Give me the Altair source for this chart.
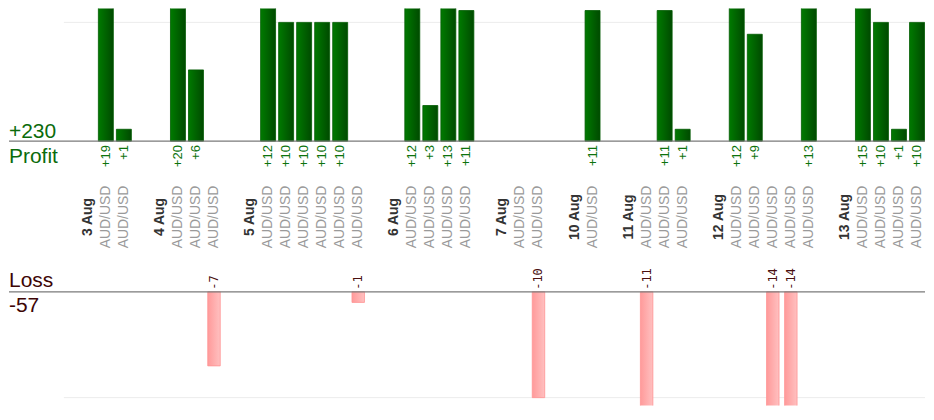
import altair as alt
import pandas as pd

# ---- data ----
days = ["3 Aug", "4 Aug", "5 Aug", "6 Aug", "7 Aug", "10 Aug", "11 Aug", "12 Aug", "13 Aug"]
results = [
    [19, 1],
    [20, 6, -7],
    [12, 10, 10, 10, 10, -1],
    [12, 3, 13, 11],
    [0, -10],
    [11],
    [-11, 11, 1],
    [12, 9, -14, -14, 13],
    [15, 10, 1, 10],
]
pair = "AUD/USD"
profit_title = "Profit"
loss_title = "Loss"

# ---- build tables (slot order: day label, its trades, one empty slot) ----
day_rows, trade_rows = [], []
slot = 0
for d, res in zip(days, results):
    day_rows.append({"slot": slot, "day": d})
    slot += 1
    for r in res:
        trade_rows.append({"slot": slot, "pair": pair, "result": r})
        slot += 1
    slot += 1

day_df = pd.DataFrame(day_rows)
trade_df = pd.DataFrame(trade_rows)
profit_df = trade_df[trade_df.result > 0].copy()
profit_df["label"] = profit_df.result.map(lambda v: f"+{v}")
loss_df = trade_df[trade_df.result < 0].copy()
loss_df["label"] = loss_df.result.map(lambda v: f"{v}")

total_profit = f"+{profit_df.result.sum()}"
total_loss = f"{loss_df.result.sum()}"

W, H = 863, 398
xs = alt.X("slot:Q", scale=alt.Scale(domain=[-1.3285, 46.443], nice=False, zero=False, padding=0), axis=None)

p_scale = alt.Scale(domain=[0, 11.176], range=[133, 0], nice=False, zero=False, padding=0)
l_scale = alt.Scale(domain=[-10.75, 0], range=[398, 284], nice=False, zero=False, padding=0)

green_grad = {
    "gradient": "linear", "x1": 0, "x2": 1, "y1": 0, "y2": 0,
    "stops": [{"offset": 0, "color": "#007a00"}, {"offset": 1, "color": "#004a00"}],
}
pink_grad = {
    "gradient": "linear", "x1": 0, "x2": 1, "y1": 0, "y2": 0,
    "stops": [{"offset": 0, "color": "#ff9a9a"}, {"offset": 1, "color": "#ffc0c0"}],
}

FONT = "Liberation Sans"

profit_bars = alt.Chart(profit_df).mark_bar(
    color=green_grad, stroke="#005a00", strokeWidth=0.8, size=15, clip=True, orient="vertical"
).encode(
    x=xs,
    y=alt.Y("result:Q", scale=p_scale, axis=None),
    y2=alt.datum(0),
)

loss_bars = alt.Chart(loss_df).mark_bar(
    color=pink_grad, stroke="#ff9393", strokeWidth=0.8, size=12.5, clip=True, orient="vertical"
).encode(
    x=xs,
    y=alt.Y("result:Q", scale=l_scale, axis=None),
    y2=alt.datum(0),
)

p_grid = alt.Chart(pd.DataFrame({"v": [10]})).mark_rule(color="#ececec", strokeWidth=1).encode(
    y=alt.Y("v:Q", scale=p_scale, axis=None), x=alt.value(0), x2=alt.value(W)
)
p_base = alt.Chart(pd.DataFrame({"v": [0]})).mark_rule(color="#7a7a7a", strokeWidth=1.2).encode(
    y=alt.Y("v:Q", scale=p_scale, axis=None), x=alt.value(-55), x2=alt.value(W)
)
l_grid = alt.Chart(pd.DataFrame({"v": [-10]})).mark_rule(color="#ececec", strokeWidth=1).encode(
    y=alt.Y("v:Q", scale=l_scale, axis=None), x=alt.value(0), x2=alt.value(W)
)
l_base = alt.Chart(pd.DataFrame({"v": [0]})).mark_rule(color="#7a7a7a", strokeWidth=1.2).encode(
    y=alt.Y("v:Q", scale=l_scale, axis=None), x=alt.value(-55), x2=alt.value(W)
)

profit_labels = alt.Chart(profit_df).mark_text(
    angle=270, align="right", baseline="middle", font=FONT, fontSize=13, color="#0d730d"
).encode(x=xs, y=alt.value(137), text="label:N")

loss_labels = alt.Chart(loss_df).mark_text(
    angle=270, align="left", baseline="middle", font="DejaVu Sans Mono", fontSize=12, color="#4a1010"
).encode(x=xs, y=alt.value(282), text="label:N")

pair_labels = alt.Chart(trade_df).mark_text(
    angle=270, align="center", baseline="middle", font=FONT, fontSize=14, color="#9a9a9a"
).encode(x=xs, y=alt.value(209), text="pair:N")

day_labels = alt.Chart(day_df).mark_text(
    angle=270, align="center", baseline="middle", font=FONT, fontSize=14, fontWeight="bold", color="#333333"
).encode(x=xs, y=alt.value(209), text="day:N")


def title_text(txt, y, color):
    return alt.Chart(pd.DataFrame({"t": [txt]})).mark_text(
        align="left", baseline="alphabetic", font=FONT, fontSize=21, color=color
    ).encode(x=alt.value(-55), y=alt.value(y), text="t:N")


titles = [
    title_text(total_profit, 130, "#0b6b0b"),
    title_text(profit_title, 155, "#0b6b0b"),
    title_text(loss_title, 279, "#3d0505"),
    title_text(total_loss, 304, "#3d0505"),
]

chart = alt.layer(
    p_grid, l_grid, profit_bars, loss_bars, p_base, l_base,
    profit_labels, loss_labels, pair_labels, day_labels, *titles
).resolve_scale(y="independent").properties(
    width=W, height=H, padding=0
).configure_view(stroke=None)

chart.save("out.html", embed_options={"renderer": "svg", "actions": False})
